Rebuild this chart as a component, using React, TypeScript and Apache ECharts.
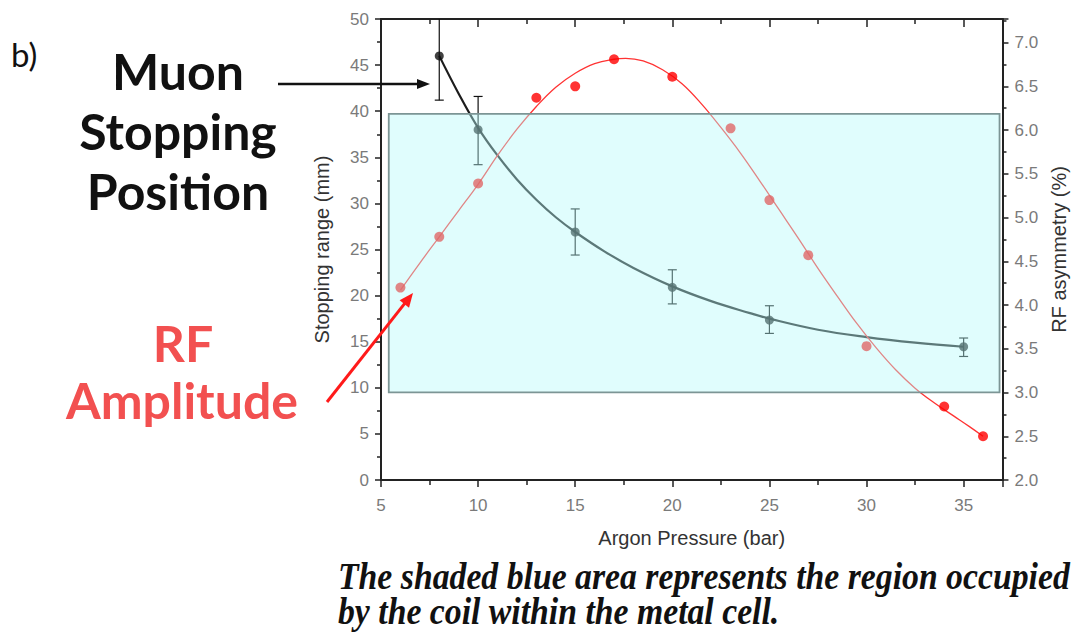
import React, { useEffect, useRef } from "react";
import * as echarts from "echarts";

// ---------- data ----------
const pressureTicks = [5, 10, 15, 20, 25, 30, 35];

// Muon stopping range (left axis, mm)
const stopX = [8, 10, 15, 20, 25, 35];
const stopY = [46.0, 38.0, 26.9, 20.9, 17.35, 14.45];
const stopErrLow = [41.2, 34.2, 24.4, 19.1, 15.9, 13.4];
const stopErrHigh = [50.8, 41.6, 29.4, 22.8, 18.9, 15.4];

// fitted stopping-range curve
const stopFitX = [8, 9, 10, 11, 12, 13, 14, 15, 16.5, 18, 20, 22, 24, 25, 27.5, 30, 32.5, 35];
const stopFitY = [46.0, 41.9, 38.2, 35.2, 32.6, 30.4, 28.5, 26.9, 24.8, 23.0, 21.0, 19.4, 18.1, 17.5, 16.3, 15.5, 14.9, 14.45];

// RF asymmetry (right axis, %)
const rfX = [6, 8, 10, 13, 15, 17, 20, 23, 25, 27, 30, 34, 36];
const rfY = [4.2, 4.78, 5.39, 6.37, 6.5, 6.81, 6.61, 6.02, 5.2, 4.57, 3.53, 2.84, 2.5];

// fitted RF curve
const rfFitX = [6, 7, 8, 9, 10, 11, 12, 13, 14, 15, 16, 17, 17.6, 18.5, 19.5, 20.5, 21.5, 22.5, 23.5, 24.5, 25.5, 26.5, 27.5, 28.5, 29.5, 30.5, 31.5, 32.5, 33.5, 34.5, 35.3, 36];
const rfFitY = [4.17, 4.48, 4.78, 5.08, 5.38, 5.71, 6.01, 6.27, 6.49, 6.65, 6.76, 6.81, 6.82, 6.79, 6.69, 6.53, 6.3, 6.03, 5.74, 5.42, 5.09, 4.76, 4.42, 4.1, 3.79, 3.51, 3.26, 3.05, 2.88, 2.73, 2.61, 2.5];

// shaded coil region [xStart, yTop, xEnd, yBottom] in (bar, mm)
const coilBox = [5.4, 39.7, 36.85, 9.5];

const Y_LEFT_MAX = 50;

const zip = (a: number[], b: number[]) => a.map((v, i) => [v, b[i]]);

function arrow(x1: number, y1: number, x2: number, y2: number, color: string, width: number, headLen: number, headHalf: number) {
  const dx = x2 - x1;
  const dy = y2 - y1;
  const len = Math.sqrt(dx * dx + dy * dy);
  const ux = dx / len;
  const uy = dy / len;
  const bx = x2 - ux * headLen;
  const by = y2 - uy * headLen;
  const px = -uy;
  const py = ux;
  return [
    {
      type: "line",
      z: 100,
      shape: { x1, y1, x2: bx + ux * 2, y2: by + uy * 2 },
      style: { stroke: color, lineWidth: width },
    },
    {
      type: "polygon",
      z: 100,
      shape: {
        points: [
          [x2, y2],
          [bx + px * headHalf, by + py * headHalf],
          [bx - px * headHalf, by - py * headHalf],
        ],
      },
      style: { fill: color },
    },
  ];
}

function txt(text: string, x: number, y: number, font: string, fill: string, align = "center", scaleX = 1) {
  return {
    type: "text",
    z: 100,
    x,
    y,
    scaleX,
    style: {
      text,
      x: 0,
      y: 0,
      font,
      fill,
      align,
      verticalAlign: "middle",
      textAlign: align,
      textVerticalAlign: "middle",
    },
  };
}

export default function App() {
  const ref = useRef<HTMLDivElement>(null);

  useEffect(() => {
    if (!ref.current) return;
    const chart = echarts.init(ref.current, undefined, { renderer: "svg" });
    const axisFont = "Liberation Sans";
    const tickColor = "#7a7a7a";
    const lineColor = "#222";

    const option: any = {
      animation: false,
      backgroundColor: "#ffffff",
      grid: { left: 381, right: 71, top: 19, bottom: 154, containLabel: false },
      xAxis: [
        {
          type: "value",
          position: "bottom",
          min: 5,
          max: 37,
          interval: 5,
          axisLine: { show: true, onZero: false, lineStyle: { color: lineColor, width: 2 } },
          axisTick: { show: true, inside: false, length: 7, lineStyle: { color: lineColor, width: 1.5 } },
          minorTick: { show: true, splitNumber: 2, length: 5, lineStyle: { color: lineColor, width: 1.5 } },
          splitLine: { show: false },
          minorSplitLine: { show: false },
          axisLabel: {
            color: tickColor,
            fontSize: 17,
            fontFamily: axisFont,
            margin: 17,
            formatter: (v: number) => (pressureTicks.indexOf(v) >= 0 ? String(v) : ""),
          },
          name: "Argon Pressure (bar)",
          nameLocation: "middle",
          nameGap: 48,
          nameTextStyle: { fontSize: 20, color: "#333", fontFamily: axisFont },
        },
        {
          type: "value",
          position: "top",
          min: 5,
          max: 37,
          interval: 5,
          axisLine: { show: true, onZero: false, lineStyle: { color: lineColor, width: 2 } },
          axisTick: { show: true, inside: true, length: 8, lineStyle: { color: lineColor, width: 1.5 } },
          minorTick: { show: true, splitNumber: 2, length: 5, lineStyle: { color: lineColor, width: 1.5 } },
          splitLine: { show: false },
          axisLabel: { show: false },
        },
      ],
      yAxis: [
        {
          type: "value",
          position: "left",
          min: 0,
          max: 50,
          interval: 5,
          axisLine: { show: true, onZero: false, lineStyle: { color: lineColor, width: 2 } },
          axisTick: { show: true, inside: false, length: 6, lineStyle: { color: lineColor, width: 1.5 } },
          minorTick: { show: true, splitNumber: 2, length: 4, lineStyle: { color: lineColor, width: 1.5 } },
          splitLine: { show: false },
          axisLabel: { color: tickColor, fontSize: 17, fontFamily: axisFont, margin: 12 },
          name: "Stopping range (mm)",
          nameLocation: "middle",
          nameRotate: 90,
          nameGap: 49,
          nameTextStyle: { fontSize: 20, color: "#333", fontFamily: axisFont },
        },
        {
          type: "value",
          position: "right",
          min: 2,
          max: 7.27,
          interval: 0.5,
          axisLine: { show: true, onZero: false, lineStyle: { color: lineColor, width: 2 } },
          axisTick: { show: true, inside: false, length: 6, lineStyle: { color: lineColor, width: 1.5 } },
          minorTick: { show: true, splitNumber: 2, length: 4, lineStyle: { color: lineColor, width: 1.5 } },
          splitLine: { show: false },
          axisLabel: {
            color: tickColor,
            fontSize: 17,
            fontFamily: axisFont,
            margin: 12,
            formatter: (v: number) => (Math.abs(v * 2 - Math.round(v * 2)) < 1e-6 && v <= 7.001 ? v.toFixed(1) : ""),
          },
          name: "RF asymmetry (%)",
          nameLocation: "middle",
          nameRotate: 90,
          nameGap: 25,
          nameTextStyle: { fontSize: 20, color: "#333", fontFamily: axisFont },
        },
      ],
      series: [
        {
          type: "line",
          name: "Stopping fit",
          xAxisIndex: 0,
          yAxisIndex: 0,
          data: zip(stopFitX, stopFitY),
          smooth: 0.4,
          showSymbol: false,
          symbol: "none",
          lineStyle: { color: "#1c1c1c", width: 2.2 },
          z: 2,
        },
        {
          type: "custom",
          name: "Stopping error",
          xAxisIndex: 0,
          yAxisIndex: 0,
          data: stopX.map((x, i) => [x, stopErrLow[i], stopErrHigh[i]]),
          encode: { x: 0, y: [1, 2] },
          z: 3,
          renderItem: (params: any, api: any) => {
            const x = api.value(0);
            const lo = api.value(1);
            const hiRaw = api.value(2);
            const hi = Math.min(hiRaw, Y_LEFT_MAX);
            const pLo = api.coord([x, lo]);
            const pHi = api.coord([x, hi]);
            const w = 4.5;
            const st = { stroke: "#111", lineWidth: 1.2 };
            const children: any[] = [
              { type: "line", shape: { x1: pLo[0], y1: pLo[1], x2: pHi[0], y2: pHi[1] }, style: st },
              { type: "line", shape: { x1: pLo[0] - w, y1: pLo[1], x2: pLo[0] + w, y2: pLo[1] }, style: st },
            ];
            if (hiRaw <= Y_LEFT_MAX) {
              children.push({ type: "line", shape: { x1: pHi[0] - w, y1: pHi[1], x2: pHi[0] + w, y2: pHi[1] }, style: st });
            }
            return { type: "group", children };
          },
        },
        {
          type: "scatter",
          name: "Stopping range",
          xAxisIndex: 0,
          yAxisIndex: 0,
          data: zip(stopX, stopY),
          symbol: "circle",
          symbolSize: 9,
          itemStyle: { color: "#111" },
          z: 4,
        },
        {
          type: "line",
          name: "RF fit",
          xAxisIndex: 0,
          yAxisIndex: 1,
          data: zip(rfFitX, rfFitY),
          smooth: 0.4,
          showSymbol: false,
          symbol: "none",
          lineStyle: { color: "#ff3333", width: 1.3 },
          z: 2,
        },
        {
          type: "scatter",
          name: "RF asymmetry",
          xAxisIndex: 0,
          yAxisIndex: 1,
          data: zip(rfX, rfY),
          symbol: "circle",
          symbolSize: 10,
          itemStyle: { color: "#ff0000" },
          z: 4,
        },
        {
          type: "custom",
          name: "Coil region",
          xAxisIndex: 0,
          yAxisIndex: 0,
          silent: true,
          data: [coilBox],
          encode: { x: [0, 2], y: [1, 3] },
          z: 10,
          renderItem: (params: any, api: any) => {
            const p0 = api.coord([api.value(0), api.value(1)]);
            const p1 = api.coord([api.value(2), api.value(3)]);
            return {
              type: "rect",
              shape: { x: p0[0], y: p0[1], width: p1[0] - p0[0], height: p1[1] - p0[1] },
              style: { fill: "rgba(180,250,250,0.42)", stroke: "#7c9595", lineWidth: 1.8 },
            };
          },
        },
      ],
      graphic: [
        txt("b)", 11, 54, "normal 33px Lato", "#111", "left"),
        txt("Muon", 178, 71, "bold 50px Lato", "#111"),
        txt("Stopping", 178, 131, "bold 50px Lato", "#111"),
        txt("Position", 178, 191, "bold 50px Lato", "#111"),
        txt("RF", 183, 343, "bold 50px Lato", "#f25050"),
        txt("Amplitude", 182, 400, "bold 50px Lato", "#f25050"),
        ...arrow(278, 84, 430, 84, "#111", 2.5, 13, 5),
        ...arrow(327, 402, 413, 293, "#ff1a1a", 3, 14, 6),
        txt("The shaded blue area represents the region occupied", 338, 576, "italic bold 38px 'Liberation Serif'", "#111", "left", 0.888),
        txt("by the coil within the metal cell.", 338, 611, "italic bold 38px 'Liberation Serif'", "#111", "left", 0.888),
      ],
    };

    chart.setOption(option);
    return () => chart.dispose();
  }, []);

  return (
    <div
      ref={ref}
      style={{ position: "fixed", left: 0, top: 0, width: 1077, height: 634, background: "#fff" }}
    />
  );
}
